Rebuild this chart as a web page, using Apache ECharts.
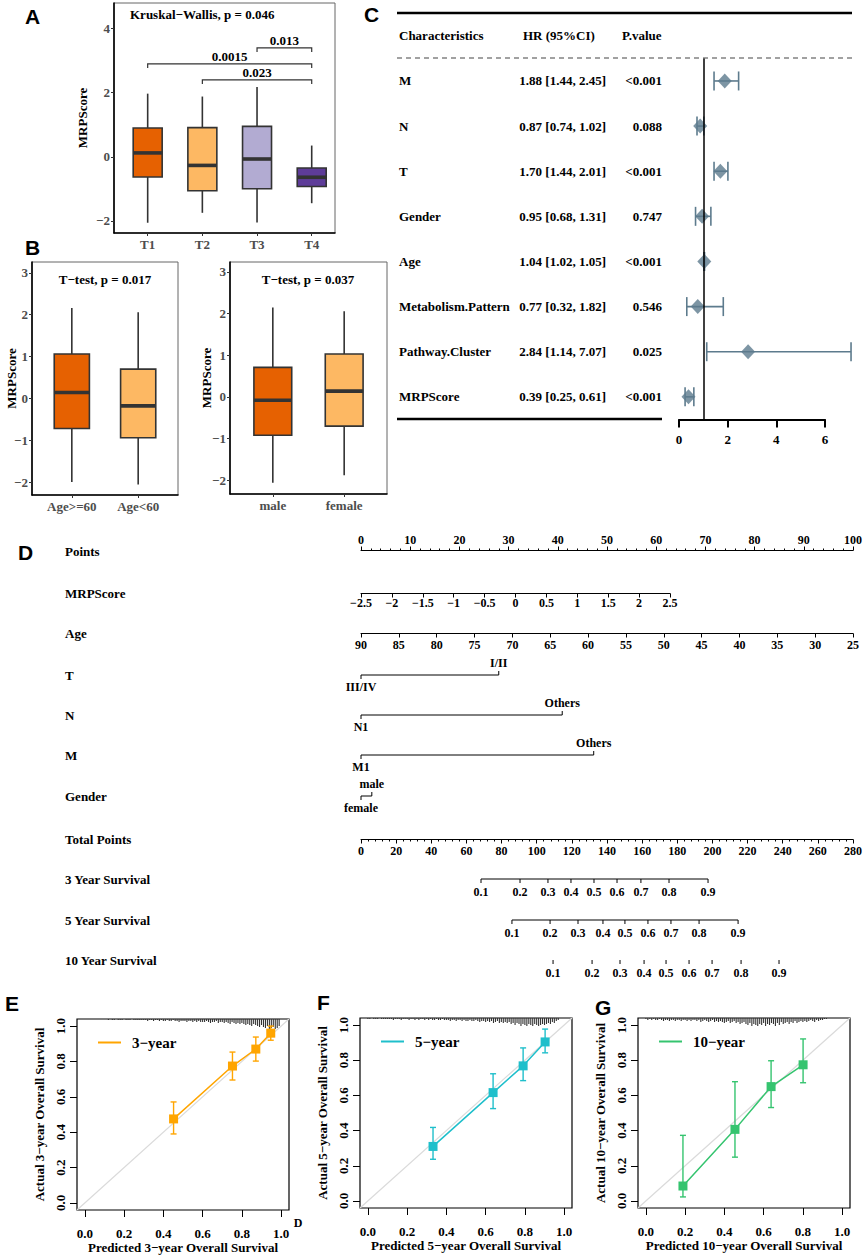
<!DOCTYPE html>
<html><head><meta charset="utf-8">
<script src="https://cdn.jsdelivr.net/npm/echarts@6/dist/echarts.min.js"></script>
<style>html,body{margin:0;padding:0;background:#fff}#c{width:865px;height:1256px}</style>
</head><body><div id="c"></div>
<script>
// ================= DATA =================
// Panel A
const aCats = ['T1', 'T2', 'T3', 'T4'];
const aMin = [-2.06, -1.75, -2.05, -1.45];
const aQ1 = [-0.63, -1.06, -1.0, -0.93];
const aMed = [0.12, -0.27, -0.07, -0.64];
const aQ3 = [0.9, 0.91, 0.95, -0.35];
const aMax = [1.97, 1.88, 2.18, 0.35];
const aPairs = [[3, 4], [1, 4], [2, 4]];
const aPairY = [3.4, 2.9, 2.4];
const aPairP = ['0.013', '0.0015', '0.023'];
const aTitle = 'Kruskal\u2212Wallis, p = 0.046';
const aTicks = [-2, 0, 2, 4];
// Panel B
const ageCats = ['Age>=60', 'Age<60'];
const ageMin = [-2.0, -2.06];
const ageQ1 = [-0.72, -0.94];
const ageMed = [0.14, -0.18];
const ageQ3 = [1.06, 0.7];
const ageMax = [2.16, 2.06];
const ageTitle = 'T\u2212test, p = 0.017';
const sexCats = ['male', 'female'];
const sexMin = [-2.06, -1.88];
const sexQ1 = [-0.92, -0.7];
const sexMed = [-0.08, 0.14];
const sexQ3 = [0.71, 1.03];
const sexMax = [2.15, 2.06];
const sexTitle = 'T\u2212test, p = 0.037';
const bTicks = [-2, -1, 0, 1, 2, 3];
// Panel C
const forestVars = ['M', 'N', 'T', 'Gender', 'Age', 'Metabolism.Pattern', 'Pathway.Cluster', 'MRPScore'];
const forestHR = [1.88, 0.87, 1.70, 0.95, 1.04, 0.77, 2.84, 0.39];
const forestLo = [1.44, 0.74, 1.44, 0.68, 1.02, 0.32, 1.14, 0.25];
const forestHi = [2.45, 1.02, 2.01, 1.31, 1.05, 1.82, 7.07, 0.61];
const forestP = ['<0.001', '0.088', '<0.001', '0.747', '<0.001', '0.546', '0.025', '<0.001'];
const forestHeaders = ['Characteristics', 'HR (95%CI)', 'P.value'];
// Panel D (nomogram)
const nomoRows = ['Points', 'MRPScore', 'Age', 'T', 'N', 'M', 'Gender', 'Total Points', '3 Year Survival', '5 Year Survival', '10 Year Survival'];
const tLevels = ['III/IV', 'I/II'];
const tPoints = [0, 28.0];
const nLevels = ['N1', 'Others'];
const nPoints = [0, 40.9];
const mLevels = ['M1', 'Others'];
const mPoints = [0, 47.3];
const genderLevels = ['female', 'male'];
const genderPoints = [0, 2.2];
const survProbs = [0.1, 0.2, 0.3, 0.4, 0.5, 0.6, 0.7, 0.8, 0.9];
const surv3Total = [68.3, 90.5, 106.4, 119.5, 132.6, 145.7, 159.3, 175.3, 197.5];
const surv5Total = [85.9, 107.6, 123.5, 137.7, 150.2, 163.3, 176.4, 192.4, 214.6];
const surv10Total = [109.3, 131.5, 147.4, 161.1, 173.6, 186.7, 199.8, 216.3, 237.9];
// Panels E, F, G (calibration)
const e3Pred = [0.452, 0.752, 0.871, 0.947];
const e3Obs = [0.475, 0.774, 0.87, 0.96];
const e3Lo = [0.39, 0.695, 0.802, 0.92];
const e3Hi = [0.571, 0.853, 0.938, 1.0];
const f5Pred = [0.332, 0.638, 0.791, 0.903];
const f5Obs = [0.31, 0.616, 0.768, 0.904];
const f5Lo = [0.237, 0.525, 0.684, 0.842];
const f5Hi = [0.418, 0.723, 0.87, 0.977];
const g10Pred = [0.189, 0.454, 0.638, 0.801];
const g10Obs = [0.085, 0.407, 0.65, 0.774];
const g10Lo = [0.023, 0.249, 0.531, 0.672];
const g10Hi = [0.373, 0.678, 0.797, 0.921];
const calTicks = [0, 0.2, 0.4, 0.6, 0.8, 1.0];
// rug of predicted values, bins 0.00..1.00 step 0.01 (relative heights)
const rugE = [0,0,0,0,0,0,0,0,0,0, 0,0,1,0,1,1,0,1,1,1, 0,1,1,1,0,1,1,1,1,1, 1,1,2,1,1,2,1,1,2,1, 2,2,1,2,2,1,2,2,3,2, 2,2,3,2,2,3,2,3,2,3, 3,3,2,3,4,3,3,2,4,3, 3,4,3,4,5,3,4,5,4,5, 4,5,6,5,6,7,5,6,7,8, 6,8,9,7,10,9,8,10,9,7, 0];
const rugF = [1,1,0,1,1,1,0,1,1,1, 1,1,1,2,1,1,1,2,1,1, 1,2,1,1,2,1,2,1,1,2, 1,2,1,2,2,1,2,2,1,2, 2,2,3,2,2,3,2,2,3,2, 3,3,2,3,3,2,3,4,3,3, 4,3,4,3,5,4,3,5,4,5, 4,5,4,6,5,7,5,6,8,6, 7,8,6,7,8,6,7,8,7,6, 7,6,5,6,4,5,3,2,0,0, 0];
const rugG = [1,2,1,2,1,2,2,1,2,3, 2,2,3,2,2,3,2,2,3,2, 2,3,2,3,2,2,3,2,4,3, 2,3,4,3,2,4,3,4,3,4, 5,4,3,5,4,3,5,4,6,5, 4,6,7,5,8,6,7,8,6,7, 5,8,6,7,5,6,8,5,7,4, 6,5,4,6,4,5,3,5,4,3, 4,3,4,3,2,3,4,2,3,2, 2,1,1,0,0,0,0,0,0,0, 0];

// ================= STYLE =================
const SERIF = '"Liberation Serif","Times New Roman",serif';
const SANS = '"Liberation Sans",Arial,sans-serif';
const colA = ['#E66101', '#FDB863', '#B2ABD2', '#5E3C99'];
const colB = ['#E66101', '#FDB863'];
const forestCol = '#5D7B8D';
const col3 = '#FFA500', col5 = '#1FBFCB', col10 = '#35C46F';
const minus = v => String(v).replace('-', '\u2212');

const grids = [], xAxes = [], yAxes = [], series = [];
function addGrid(g) { g.outerBoundsMode = 'none'; grids.push(g); return grids.length - 1; }

// ---------- boxplot panels ----------
function boxPanel(rect, cats, mn, q1, md, q3, mx, colors, xMin, xMax, yMin, yMax, yTicks, nameGap) {
  const gi = addGrid(Object.assign({ show: true, borderColor: '#666', borderWidth: 1 }, rect));
  const pos = cats.map((c, i) => i + 1);
  xAxes.push({ type: 'value', gridIndex: gi, min: xMin, max: xMax, splitLine: { show: false },
    axisLine: { show: true, onZero: false, lineStyle: { color: '#000', width: 1.6 } },
    axisTick: { show: true, customValues: pos, length: 3, lineStyle: { color: '#333' } },
    axisLabel: { customValues: pos, formatter: v => cats[Math.round(v) - 1], fontFamily: SERIF, fontWeight: 'bold', fontSize: 13, color: '#4D4D4D', margin: 5 } });
  yAxes.push({ type: 'value', gridIndex: gi, min: yMin, max: yMax, splitLine: { show: false },
    axisLine: { show: true, onZero: false, lineStyle: { color: '#000', width: 1.6 } },
    axisTick: { show: true, customValues: yTicks, length: 3, lineStyle: { color: '#333' } },
    axisLabel: { customValues: yTicks, formatter: minus, fontFamily: SERIF, fontWeight: 'bold', fontSize: 13, color: '#4D4D4D', margin: 4 },
    name: 'MRPScore', nameLocation: 'middle', nameGap: nameGap, nameMoveOverlap: false,
    nameTextStyle: { fontFamily: SERIF, fontWeight: 'bold', fontSize: 13, color: '#000' } });
  series.push({ type: 'custom', xAxisIndex: gi, yAxisIndex: gi, silent: true,
    data: cats.map((c, i) => [i + 1, mn[i], q1[i], md[i], q3[i], mx[i]]),
    encode: { x: 0, y: [1, 2, 3, 4, 5] },
    renderItem(params, api) {
      const i = params.dataIndex, x = api.value(0);
      const hw = api.size([1, 0])[0] * 0.265;
      const pMin = api.coord([x, api.value(1)]), pQ1 = api.coord([x, api.value(2)]);
      const pMed = api.coord([x, api.value(3)]), pQ3 = api.coord([x, api.value(4)]);
      const pMax = api.coord([x, api.value(5)]);
      const cx = pMed[0];
      return { type: 'group', children: [
        { type: 'line', shape: { x1: cx, y1: pQ3[1], x2: cx, y2: pMax[1] }, style: { stroke: '#333', lineWidth: 1.6 } },
        { type: 'line', shape: { x1: cx, y1: pQ1[1], x2: cx, y2: pMin[1] }, style: { stroke: '#333', lineWidth: 1.6 } },
        { type: 'rect', shape: { x: cx - hw, y: pQ3[1], width: 2 * hw, height: pQ1[1] - pQ3[1] }, style: { fill: colors[i], stroke: '#333', lineWidth: 1.6 } },
        { type: 'line', shape: { x1: cx - hw, y1: pMed[1], x2: cx + hw, y2: pMed[1] }, style: { stroke: '#333', lineWidth: 3.6 } }
      ] };
    } });
  return gi;
}

const gA = boxPanel({ left: 114, top: 3, width: 221, height: 230 }, aCats, aMin, aQ1, aMed, aQ3, aMax, colA, 0.384, 4.426, -2.38, 4.8, aTicks, 25);
// brackets in A
series.push({ type: 'custom', xAxisIndex: gA, yAxisIndex: gA, silent: true,
  data: aPairs.map((p, i) => [p[0], p[1], aPairY[i]]),
  renderItem(params, api) {
    const i = params.dataIndex, y = api.value(2);
    const p1 = api.coord([api.value(0), y]), p2 = api.coord([api.value(1), y]);
    const t1 = api.coord([api.value(0), y - 0.13]);
    const st = { stroke: '#333', lineWidth: 1.2 };
    return { type: 'group', children: [
      { type: 'polyline', shape: { points: [[p1[0], t1[1]], [p1[0], p1[1]], [p2[0], p2[1]], [p2[0], t1[1]]] }, style: Object.assign({ fill: null }, st) },
      { type: 'text', style: { x: (p1[0] + p2[0]) / 2, y: p1[1] - 7, text: aPairP[i], textAlign: 'center', textVerticalAlign: 'middle', font: 'bold 13px ' + SERIF, fill: '#000' } }
    ] };
  } });
const gBl = boxPanel({ left: 32, top: 262, width: 146, height: 233 }, ageCats, ageMin, ageQ1, ageMed, ageQ3, ageMax, colB, 0.4, 2.6, -2.31, 3.26, bTicks, 14);
const gBr = boxPanel({ left: 230, top: 262, width: 157, height: 232 }, sexCats, sexMin, sexQ1, sexMed, sexQ3, sexMax, colB, 0.4, 2.6, -2.33, 3.24, bTicks, 17);

// ---------- forest plot (C) ----------
const gC = addGrid({ left: 679, top: 58.4, width: 146, height: 361 });
xAxes.push({ type: 'value', gridIndex: gC, min: 0, max: 6, interval: 2, splitLine: { show: false },
  axisLine: { show: true, onZero: false, lineStyle: { color: '#000', width: 2 } },
  axisTick: { show: true, length: 8, lineStyle: { color: '#000', width: 2 } },
  axisLabel: { fontFamily: SERIF, fontWeight: 'bold', fontSize: 13, color: '#000', margin: 14 } });
yAxes.push({ type: 'category', gridIndex: gC, data: forestVars, inverse: true,
  axisLine: { show: false }, axisTick: { show: false },
  axisLabel: { align: 'left', margin: 280, fontFamily: SERIF, fontWeight: 'bold', fontSize: 13, color: '#000' } });
series.push({ type: 'custom', xAxisIndex: gC, yAxisIndex: gC, silent: true, clip: false,
  data: forestVars.map((v, i) => [forestHR[i], forestLo[i], forestHi[i], v]),
  encode: { x: [0, 1, 2], y: 3 },
  renderItem(params, api) {
    const i = params.dataIndex;
    const c = api.coord([api.value(0), api.value(3)]);
    const lo = api.coord([api.value(1), api.value(3)])[0], hi = api.coord([api.value(2), api.value(3)])[0];
    const y = c[1], st = { stroke: forestCol, lineWidth: 1.6 };
    const txt = forestHR[i].toFixed(2) + ' [' + forestLo[i].toFixed(2) + ', ' + forestHi[i].toFixed(2) + ']';
    return { type: 'group', children: [
      { type: 'line', shape: { x1: lo, y1: y, x2: hi, y2: y }, style: st },
      { type: 'line', shape: { x1: lo, y1: y - 9.5, x2: lo, y2: y + 9.5 }, style: st },
      { type: 'line', shape: { x1: hi, y1: y - 9.5, x2: hi, y2: y + 9.5 }, style: st },
      { type: 'text', style: { x: 606, y: y, text: txt, textAlign: 'right', textVerticalAlign: 'middle', font: 'bold 13px ' + SERIF, fill: '#000' } },
      { type: 'text', style: { x: 662, y: y, text: forestP[i], textAlign: 'right', textVerticalAlign: 'middle', font: 'bold 13px ' + SERIF, fill: '#000' } }
    ] };
  } });
series.push({ type: 'scatter', xAxisIndex: gC, yAxisIndex: gC, silent: true, z: 4,
  symbol: 'diamond', symbolSize: [14, 15], itemStyle: { color: forestCol },
  data: forestVars.map((v, i) => [forestHR[i], v]),
  markLine: { symbol: ['none', 'none'], silent: true, label: { show: false }, animation: false,
    lineStyle: { color: '#000', width: 1.5, type: 'solid' }, data: [{ xAxis: 1 }] } });

// ---------- nomogram (D) ----------
const rowY = [551, 593, 633, 675, 715, 755, 796, 839, 879, 920, 960];
const nomoGrid = [];
nomoRows.forEach((name, k) => {
  const gi = addGrid({ left: 361, top: rowY[k] - 0.5, width: k === 1 ? 309 : 492, height: 1 });
  nomoGrid.push(gi);
  yAxes.push({ type: 'category', gridIndex: gi, data: [name], axisLine: { show: false }, axisTick: { show: false },
    axisLabel: { align: 'left', margin: 296, fontFamily: SERIF, fontWeight: 'bold', fontSize: 13, color: '#000' } });
});
const nomoAxisBase = (gi) => ({ type: 'value', gridIndex: gi, splitLine: { show: false },
  axisLine: { show: true, onZero: false, lineStyle: { color: '#000', width: 1 } },
  axisTick: { show: true, length: 4, lineStyle: { color: '#000' } },
  axisLabel: { fontFamily: SERIF, fontWeight: 'bold', fontSize: 12, color: '#000', margin: 5, formatter: minus } });
xAxes.push(Object.assign(nomoAxisBase(nomoGrid[0]), { min: 0, max: 100, interval: 10, position: 'top',
  minorTick: { show: true, splitNumber: 5, length: 2, lineStyle: { color: '#000' } } }));
xAxes.push(Object.assign(nomoAxisBase(nomoGrid[1]), { min: -2.5, max: 2.5, interval: 0.5 }));
xAxes[xAxes.length - 1].axisLabel.margin = 3;
xAxes.push(Object.assign(nomoAxisBase(nomoGrid[2]), { min: 25, max: 90, interval: 5, inverse: true }));
for (let k = 3; k <= 6; k++) xAxes.push({ type: 'value', gridIndex: nomoGrid[k], min: 0, max: 100, show: false });
xAxes.push(Object.assign(nomoAxisBase(nomoGrid[7]), { min: 0, max: 280, interval: 20,
  minorTick: { show: true, splitNumber: 5, length: 2, lineStyle: { color: '#000' } } }));
for (let k = 8; k <= 10; k++) xAxes.push({ type: 'value', gridIndex: nomoGrid[k], min: 0, max: 280, show: false });

function catRow(k, levels, pts) {
  const gi = nomoGrid[k], rowName = nomoRows[k];
  series.push({ type: 'custom', xAxisIndex: gi, yAxisIndex: gi, silent: true, clip: false,
    data: [[pts[0], rowName]],
    renderItem(params, api) {
      const xs = pts.map(p => api.coord([p, 0])[0]);
      const y = api.coord([pts[0], 0])[1];
      const ch = [{ type: 'line', shape: { x1: Math.min(...xs), y1: y, x2: Math.max(...xs), y2: y }, style: { stroke: '#000', lineWidth: 1 } }];
      levels.forEach((lv, i) => {
        const up = i > 0;
        ch.push({ type: 'line', shape: { x1: xs[i], y1: y, x2: xs[i], y2: y + (up ? -4 : 4) }, style: { stroke: '#000', lineWidth: 1 } });
        ch.push({ type: 'text', style: { x: xs[i], y: y + (up ? -12 : 12), text: lv, textAlign: 'center', textVerticalAlign: 'middle', font: 'bold 12px ' + SERIF, fill: '#000' } });
      });
      return { type: 'group', children: ch };
    } });
}
catRow(3, tLevels, tPoints);
catRow(4, nLevels, nPoints);
catRow(5, mLevels, mPoints);
catRow(6, genderLevels, genderPoints);

function survRow(k, probs, tot, withLine) {
  const gi = nomoGrid[k], rowName = nomoRows[k];
  series.push({ type: 'custom', xAxisIndex: gi, yAxisIndex: gi, silent: true, clip: false,
    data: [[tot[0], rowName]],
    renderItem(params, api) {
      const xs = tot.map(p => api.coord([p, 0])[0]);
      const y = api.coord([tot[0], 0])[1];
      const ch = [];
      if (withLine) ch.push({ type: 'line', shape: { x1: xs[0], y1: y, x2: xs[xs.length - 1], y2: y }, style: { stroke: '#000', lineWidth: 1 } });
      probs.forEach((p, i) => {
        ch.push({ type: 'line', shape: { x1: xs[i], y1: y, x2: xs[i], y2: y + 4 }, style: { stroke: '#000', lineWidth: 1 } });
        ch.push({ type: 'text', style: { x: xs[i], y: y + 13, text: p.toFixed(1), textAlign: 'center', textVerticalAlign: 'middle', font: 'bold 12px ' + SERIF, fill: '#000' } });
      });
      return { type: 'group', children: ch };
    } });
}
survRow(8, survProbs, surv3Total, true);
survRow(9, survProbs, surv5Total, true);
survRow(10, survProbs, surv10Total, false);

// ---------- calibration panels ----------
const legends = [];
function calPanel(rect, yr, pred, obs, lo, hi, rug, color) {
  const gi = addGrid(Object.assign({ show: true, borderColor: '#000', borderWidth: 1.2 }, rect));
  const lab = { fontFamily: SERIF, fontWeight: 'bold', fontSize: 13, color: '#000' };
  xAxes.push({ type: 'value', gridIndex: gi, min: -0.04, max: 1.04, splitLine: { show: false },
    axisLine: { show: false, onZero: false },
    axisTick: { show: true, customValues: calTicks, length: 7, lineStyle: { color: '#000' } },
    axisLabel: Object.assign({ customValues: calTicks, formatter: v => v.toFixed(1), margin: 17 }, lab),
    name: 'Predicted ' + yr + '\u2212year Overall Survival', nameLocation: 'middle', nameGap: 31, nameMoveOverlap: false, nameTextStyle: lab });
  yAxes.push({ type: 'value', gridIndex: gi, min: -0.04, max: 1.04, splitLine: { show: false },
    axisLine: { show: false, onZero: false },
    axisTick: { show: true, customValues: calTicks, length: 7, lineStyle: { color: '#000' } },
    axisLabel: Object.assign({ customValues: calTicks, formatter: v => v.toFixed(1), margin: 10, rotate: 90 }, lab),
    name: 'Actual ' + yr + '\u2212year Overall Survival', nameLocation: 'middle', nameGap: 31, nameMoveOverlap: false, nameTextStyle: lab });
  series.push({ type: 'line', xAxisIndex: gi, yAxisIndex: gi, silent: true, symbol: 'none', z: 1,
    lineStyle: { color: '#DADADA', width: 1.2 }, data: [[-0.04, -0.04], [1.04, 1.04]] });
  series.push({ type: 'custom', xAxisIndex: gi, yAxisIndex: gi, silent: true, clip: true, z: 2,
    data: rug.map((h, i) => [i / 100, h]),
    renderItem(params, api) {
      const h = api.value(1);
      if (!(h > 0)) return null;
      const p = api.coord([api.value(0), 1.04]);
      return { type: 'line', shape: { x1: p[0], y1: p[1], x2: p[0], y2: p[1] + h }, style: { stroke: '#333', lineWidth: 1.1 } };
    } });
  series.push({ type: 'custom', xAxisIndex: gi, yAxisIndex: gi, silent: true, z: 3,
    data: pred.map((p, i) => [p, lo[i], hi[i]]),
    renderItem(params, api) {
      const a = api.coord([api.value(0), api.value(1)]), b = api.coord([api.value(0), api.value(2)]);
      const st = { stroke: color, lineWidth: 1.4 };
      return { type: 'group', children: [
        { type: 'line', shape: { x1: a[0], y1: a[1], x2: b[0], y2: b[1] }, style: st },
        { type: 'line', shape: { x1: a[0] - 3, y1: a[1], x2: a[0] + 3, y2: a[1] }, style: st },
        { type: 'line', shape: { x1: b[0] - 3, y1: b[1], x2: b[0] + 3, y2: b[1] }, style: st }
      ] };
    } });
  const nm = yr + '\u2212year';
  series.push({ type: 'line', name: nm, xAxisIndex: gi, yAxisIndex: gi, z: 4, silent: true,
    symbol: 'rect', symbolSize: 9, itemStyle: { color: color }, lineStyle: { color: color, width: 1.5 },
    data: pred.map((p, i) => [p, obs[i]]) });
  legends.push({ data: [{ name: nm, icon: 'rect' }], left: rect.left + 21, top: rect.top + 16,
    padding: 0, itemWidth: 23, itemHeight: 2, selectedMode: false,
    textStyle: { fontFamily: SERIF, fontWeight: 'bold', fontSize: 15, color: '#000', padding: [0, 0, 0, 6] } });
}
calPanel({ left: 77, top: 1019, width: 212, height: 191 }, '3', e3Pred, e3Obs, e3Lo, e3Hi, rugE, col3);
calPanel({ left: 360, top: 1018, width: 212, height: 190 }, '5', f5Pred, f5Obs, f5Lo, f5Hi, rugF, col5);
calPanel({ left: 638, top: 1018, width: 212, height: 190 }, '10', g10Pred, g10Obs, g10Lo, g10Hi, rugG, col10);

// ---------- free text & table rules ----------
const letter = (t, x, y) => ({ type: 'text', style: { x, y, text: t, font: 'bold 21px ' + SANS, fill: '#000', textVerticalAlign: 'top' } });
const serifText = (t, x, y, align, size) => ({ type: 'text', style: { x, y, text: t, font: 'bold ' + (size || 13) + 'px ' + SERIF, fill: '#000', textAlign: align || 'left', textVerticalAlign: 'middle' } });
const rule = (x1, y1, x2, y2, w, dash) => ({ type: 'line', shape: { x1, y1, x2, y2 }, style: { stroke: dash ? '#444' : '#000', lineWidth: w, lineDash: dash || null } });
const graphics = [
  letter('A', 25, 6), letter('B', 25, 237), letter('C', 364, 4), letter('D', 18, 542),
  letter('E', 5, 993), letter('F', 317, 992), letter('G', 595, 997),
  serifText(aTitle, 130, 14),
  serifText(ageTitle, 105, 279, 'center'),
  serifText(sexTitle, 308, 279, 'center'),
  serifText(forestHeaders[0], 399, 35), serifText(forestHeaders[1], 523, 35), serifText(forestHeaders[2], 622, 35),
  rule(397, 13, 852, 13, 2.5), rule(397, 58, 852, 58, 1.2, [5, 4]), rule(397, 419, 662, 419, 2.5),
  serifText('D', 298, 1223, 'center', 12)
];

const option = {
  animation: false,
  backgroundColor: '#fff',
  grid: grids, xAxis: xAxes, yAxis: yAxes,
  legend: legends,
  graphic: { elements: graphics },
  series: series
};
const chart = echarts.init(document.getElementById('c'), null, { renderer: 'svg' });
chart.setOption(option);
</script></body></html>
